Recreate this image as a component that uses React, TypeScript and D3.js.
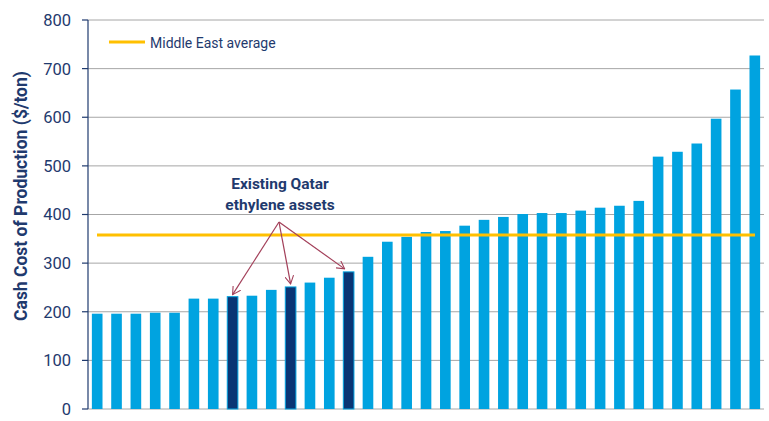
import React from "react";
import * as d3 from "d3";

const values: number[] = [
  196, 196, 196, 198, 198, 227, 227, 231, 233, 245, 251, 260, 270, 282, 313,
  344, 354, 364, 366, 377, 389, 395, 401, 403, 403, 408, 414, 418, 428, 519,
  529, 546, 597, 657, 727,
];
const qatarIdx: number[] = [7, 10, 13];
const middleEastAvg = 358;
const yTicks: number[] = [0, 100, 200, 300, 400, 500, 600, 700, 800];
const yTitle = "Cash Cost of Production ($/ton)";
const legendLabel = "Middle East average";
const annotationLines: string[] = ["Existing Qatar", "ethylene assets"];

const W = 769;
const H = 421;
const M = { left: 88, right: 5, top: 20, bottom: 12 };
const navy = "#1F3A6E";
const lightBlue = "#00A3E0";
const darkBlue = "#0A3574";
const gold = "#FFC000";
const arrowColor = "#A3405A";
const font = "Roboto, 'Open Sans', Arial, sans-serif";

export default function App() {
  const x = d3
    .scaleBand<number>()
    .domain(values.map((_, i) => i))
    .range([M.left, W - M.right])
    .paddingInner(0.45)
    .paddingOuter(0.2);
  const y = d3.scaleLinear().domain([0, 800]).range([H - M.bottom, M.top]);

  const origin = { x: 279, y: 222 };
  const targets = qatarIdx.map((i, k) => {
    const cx = (x(i) as number) + x.bandwidth() / 2;
    const top = y(values[i]);
    const offsets = [
      { dx: 0, dy: -2 },
      { dx: 0, dy: -3 },
      { dx: -4, dy: -3 },
    ];
    return { x: cx + offsets[k].dx, y: top + offsets[k].dy };
  });

  return (
    <svg
      width={W}
      height={H}
      style={{ position: "absolute", left: 0, top: 0, background: "#fff" }}
      fontFamily={font}
    >
      <defs>
        <marker
          id="arr"
          viewBox="0 0 10 10"
          refX="9"
          refY="5"
          markerWidth="9"
          markerHeight="9"
          orient="auto"
          markerUnits="userSpaceOnUse"
        >
          <path d="M0,0 L9,5 L0,10" fill="none" stroke={arrowColor} strokeWidth={1.2} />
        </marker>
      </defs>
      {/* gridlines */}
      {yTicks.map((t) => (
        <line
          key={"g" + t}
          x1={M.left}
          x2={W - M.right}
          y1={y(t)}
          y2={y(t)}
          stroke="#A6A6A6"
          strokeWidth={1}
        />
      ))}
      {/* bars */}
      {values.map((v, i) => {
        const q = qatarIdx.includes(i);
        return (
          <rect
            key={i}
            x={x(i)}
            y={y(v)}
            width={x.bandwidth()}
            height={y(0) - y(v)}
            fill={q ? darkBlue : lightBlue}
            stroke={q ? lightBlue : "none"}
            strokeWidth={q ? 1 : 0}
          />
        );
      })}
      {/* average line */}
      <line
        x1={97}
        x2={755}
        y1={y(middleEastAvg)}
        y2={y(middleEastAvg)}
        stroke={gold}
        strokeWidth={3}
      />
      {/* y axis */}
      <line x1={M.left} x2={M.left} y1={y(800)} y2={y(0)} stroke={navy} strokeWidth={1.2} />
      {yTicks.map((t) => (
        <g key={"t" + t}>
          <line x1={M.left - 6} x2={M.left} y1={y(t)} y2={y(t)} stroke={navy} strokeWidth={1.2} />
          <text
            x={M.left - 17}
            y={y(t)}
            dy="0.36em"
            textAnchor="end"
            fontSize={16.5}
            fill={navy}
          >
            {t}
          </text>
        </g>
      ))}
      <text
        transform={`translate(27, 196) rotate(-90)`}
        textAnchor="middle"
        fontSize={17.5}
        fontWeight="bold"
        fill={navy}
      >
        {yTitle}
      </text>
      {/* legend */}
      <line x1={109} x2={145} y1={42} y2={42} stroke={gold} strokeWidth={3} />
      <text x={150} y={47.5} fontSize={14} fill={navy}>
        {legendLabel}
      </text>
      {/* annotation */}
      {annotationLines.map((l, i) => (
        <text
          key={l}
          x={280}
          y={189 + i * 21}
          textAnchor="middle"
          fontSize={15.5}
          fontWeight="bold"
          fill={navy}
        >
          {l}
        </text>
      ))}
      {targets.map((t, i) => (
        <line
          key={"a" + i}
          x1={origin.x}
          y1={origin.y}
          x2={t.x}
          y2={t.y}
          stroke={arrowColor}
          strokeWidth={1.2}
          markerEnd="url(#arr)"
        />
      ))}
    </svg>
  );
}
